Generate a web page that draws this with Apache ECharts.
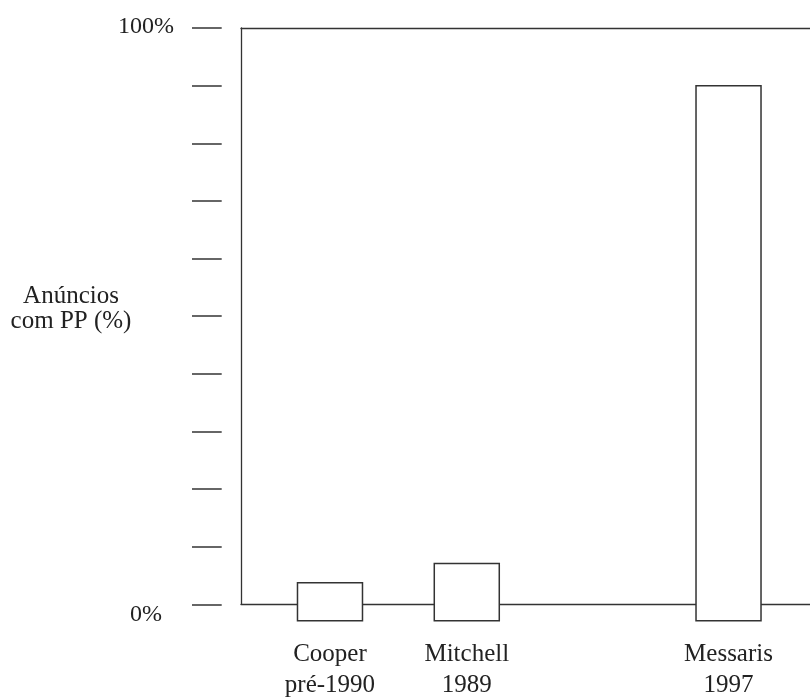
<!DOCTYPE html>
<html>
<head>
<meta charset="utf-8">
<script src="https://cdn.jsdelivr.net/npm/echarts@6/dist/echarts.min.js"></script>
<style>
  html, body { margin: 0; padding: 0; background: #fff; }
  #chart { width: 810px; height: 697px; }
</style>
</head>
<body>
<div id="chart"></div>
<script>
// Data
const categories = ['Cooper\npré-1990', 'Mitchell\n1989', 'Messaris\n1997'];
const values = [3.75, 7.1, 90];             // % of ads with product placement
const slotPositions = [15.64, 39.68, 85.68]; // horizontal slot of each study along the x scale (0-100)
const yTickLabels = ['0%', '100%'];

const barBase = -2.85;   // bars drawn from slightly below the 0 line, as in the reference
const FONT = '"Liberation Serif", "DejaVu Serif", serif';
const INK = '#333';

const chart = echarts.init(document.getElementById('chart'), null, { renderer: 'canvas' });

function nearestName(v) {
  let best = 0, bd = Infinity;
  slotPositions.forEach((p, i) => { const d = Math.abs(p - v); if (d < bd) { bd = d; best = i; } });
  return categories[best];
}

const option = {
  animation: false,
  backgroundColor: '#fff',
  grid: [
    { left: 241, right: 0, top: 28, bottom: 92.7, containLabel: false, outerBoundsMode: 'none' },   // main plot
    { left: 192, width: 29.7, top: 28, bottom: 92.7, containLabel: false, outerBoundsMode: 'none' } // detached tick strip
  ],
  graphic: [{
    type: 'text',
    x: 71, y: 284,
    style: {
      text: 'Anúncios\ncom PP (%)',
      font: '25px ' + FONT,
      fill: '#222',
      align: 'center',
      verticalAlign: 'top',
      lineHeight: 25
    }
  }],
  xAxis: [{
    gridIndex: 0, type: 'value', min: 0, max: 100, position: 'bottom',
    axisLine: { show: true, lineStyle: { color: INK, width: 1.3 } },
    axisTick: { show: false },
    splitLine: { show: false },
    axisLabel: {
      customValues: slotPositions,
      formatter: v => nearestName(v),
      margin: 35,
      fontFamily: FONT, fontSize: 25, color: '#222', lineHeight: 31
    }
  }, {
    gridIndex: 0, type: 'value', min: 0, max: 100, position: 'top',
    axisLine: { show: true, lineStyle: { color: INK, width: 1.3 } },
    axisTick: { show: false }, axisLabel: { show: false }, splitLine: { show: false }
  }, {
    gridIndex: 1, type: 'value', min: 0, max: 1, show: false
  }],
  yAxis: [{
    gridIndex: 0, type: 'value', min: 0, max: 100, position: 'left',
    axisLine: { show: true, lineStyle: { color: INK, width: 1.3 } },
    axisTick: { show: false }, axisLabel: { show: false }, splitLine: { show: false }
  }, {
    gridIndex: 1, type: 'value', min: 0, max: 100, interval: 10, position: 'left',
    axisLine: { show: false },
    axisTick: { show: false },
    splitLine: { show: true, lineStyle: { color: INK, width: 1.5 } },
    axisLabel: {
      margin: 46, align: 'center',
      fontFamily: FONT, fontSize: 24, color: '#222',
      formatter: v => v === 0 ? '{lo|' + yTickLabels[0] + '}' : (v === 100 ? '{hi|' + yTickLabels[1] + '}' : ''),
      rich: {
        lo: { fontFamily: FONT, fontSize: 24, color: '#222', padding: [20, 0, 0, 0] },
        hi: { fontFamily: FONT, fontSize: 24, color: '#222', padding: [0, 0, 2, 0] }
      }
    }
  }],
  series: [{
    type: 'custom',
    xAxisIndex: 0, yAxisIndex: 0,
    clip: false,
    z: 5,
    data: values.map((v, i) => [slotPositions[i], v]),
    renderItem: function (params, api) {
      const x = api.value(0), y = api.value(1);
      const top = api.coord([x, y]);
      const bottom = api.coord([x, barBase]);
      const w = 65;
      return {
        type: 'rect',
        shape: { x: top[0] - w / 2, y: top[1], width: w, height: bottom[1] - top[1] },
        style: { fill: '#fff', stroke: INK, lineWidth: 1.5 }
      };
    }
  }]
};

chart.setOption(option);
</script>
</body>
</html>
